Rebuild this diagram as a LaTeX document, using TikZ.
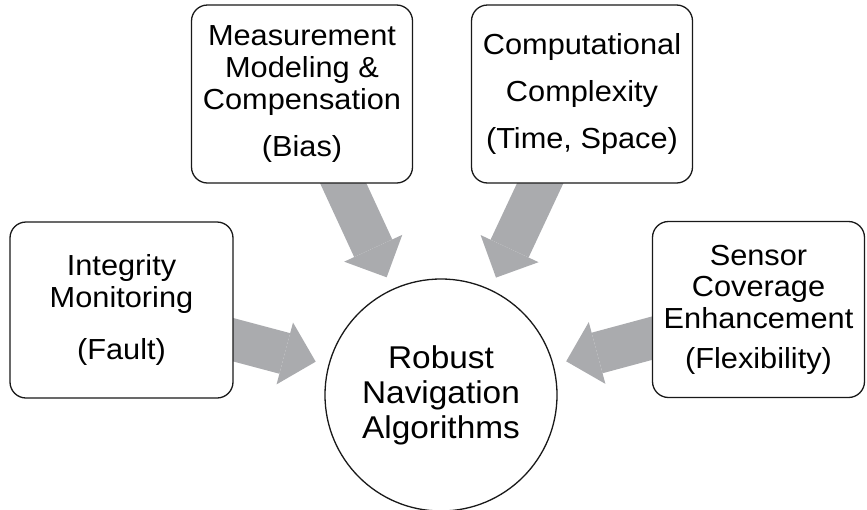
\documentclass[tikz,border=0pt]{standalone}
\usepackage{fontspec}
\setmainfont{Liberation Sans}[FakeStretch=1.06]
\usetikzlibrary{arrows.meta, shapes.geometric, backgrounds}

\definecolor{arrowgray}{RGB}{170,171,174}

\begin{document}
\begin{tikzpicture}[
  x=1pt, y=-1pt,
  % ---- styles ----
  topic/.style = {
    rectangle, draw=black!90, line width=1.3pt,
    rounded corners=16pt,
    fill=white,
    align=center,
    inner sep=0pt,
    font=\fontsize{29}{31.7}\selectfont
  },
  hubnode/.style = {
    circle, draw=black!90, line width=1.3pt,
    fill=white,
    minimum size=232pt,
    align=center,
    inner sep=0pt,
    font=\fontsize{31.5}{35}\selectfont
  },
  feed/.style = {
    arrowgray, line width=42pt,
    -{Triangle[width=64pt, length=32pt, line width=0pt]},
    shorten >=13pt
  }
]
\useasboundingbox (0,0) rectangle (867,509);

% ============ TOPICS ============

% --- left ---
\node[topic, minimum width=223pt, minimum height=176pt] (integ) at (121.5, 310) {
  Integrity\\Monitoring\\[21pt](Fault)
};

% --- top left ---
\node[topic, minimum width=221pt, minimum height=178pt] (meas) at (302, 94) {
  Measurement\\Modeling \&\\Compensation\\[15pt](Bias)
};

% --- top right ---
\node[topic, minimum width=221pt, minimum height=178pt] (comp) at (582, 94) {
  Computational\\[15pt]Complexity\\[15pt](Time, Space)
};

% --- right ---
\node[topic, minimum width=212pt, minimum height=176pt] (sensor) at (758.5, 309.5) {
  Sensor\\Coverage\\Enhancement\\[8pt](Flexibility)
};

% ============ CENTRE ============

\node[hubnode] (hub) at (441, 395) {Robust\\Navigation\\Algorithms};

% ============ ARROWS ============

\begin{scope}[on background layer]
  \draw[feed] (integ.center) -- (hub);
  \draw[feed] (meas.center) -- (hub);
  \draw[feed] (comp.center) -- (hub);
  \draw[feed] (sensor.center) -- (hub);
\end{scope}

\end{tikzpicture}
\end{document}
